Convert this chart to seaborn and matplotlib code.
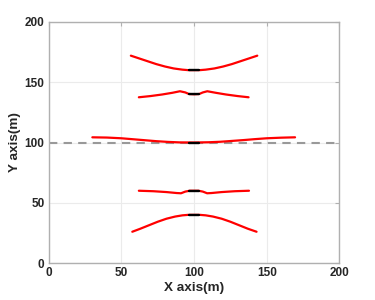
import numpy as np
import pandas as pd
import seaborn as sns
import matplotlib
matplotlib.use("Agg")
import matplotlib.pyplot as plt

# curves (x in m, y in m)
x_top = [56.5, 62, 68, 74, 80, 86, 92, 96, 100, 104, 108, 114, 120, 126, 132, 138, 143.5]
y_top = [172, 169.8, 167.4, 165, 163, 161.4, 160.4, 160, 160, 160, 160.4, 161.4, 163, 165, 167.4, 169.8, 172]

x_upper = [62, 70, 78, 85, 90.3, 94, 96.5, 100, 103.5, 106, 109.1, 115, 122, 130, 137.5]
y_upper = [137.5, 138.5, 139.8, 141.2, 142.5, 141.5, 140.2, 140, 140.2, 141.5, 142.5, 141.2, 139.8, 138.5, 137.5]

x_mid = [30, 40, 50, 58, 66, 74, 82, 90, 100, 110, 118, 126, 134, 142, 150, 160, 169.5]
y_mid = [104.3, 104.1, 103.5, 102.7, 101.9, 101.1, 100.5, 100.1, 100, 100.2, 100.6, 101.3, 102, 102.8, 103.5, 104, 104.3]

x_lower = [62, 72, 81, 88, 91, 94, 97, 100, 103, 106, 109, 112, 119, 128, 137.8]
y_lower = [60, 59.6, 58.9, 58.1, 57.9, 59.3, 60, 60, 60, 59.3, 57.9, 58.1, 58.9, 59.6, 60]

x_bottom = [57.5, 63, 69, 75, 81, 87, 92, 96, 100, 104, 108, 113, 119, 125, 131, 137, 143]
y_bottom = [26, 28.5, 31.4, 34.3, 36.8, 38.6, 39.6, 40, 40, 40, 39.6, 38.6, 36.8, 34.3, 31.4, 28.5, 26]

centers = [160, 140, 100, 60, 40]
center_x = [96.5, 103.5]
ref_y = 100

sns.set_style("white")
plt.rcParams['font.family'] = ['Liberation Sans', 'DejaVu Sans']
plt.rcParams['font.weight'] = 'bold'

fig = plt.figure(figsize=(3.75, 3.0), dpi=100)
ax = fig.add_axes([0.13, 0.123, 0.775, 0.804])

ax.axhline(ref_y, color='#999999', lw=1.5, ls=(0, (4, 3)), zorder=1)

for xs, ys in [(x_top, y_top), (x_upper, y_upper), (x_mid, y_mid),
               (x_lower, y_lower), (x_bottom, y_bottom)]:
    sns.lineplot(x=xs, y=ys, ax=ax, color='red', lw=1.6, sort=False,
                 estimator=None, zorder=3)

for c in centers:
    sns.lineplot(x=center_x, y=[c, c], ax=ax, color='black', lw=1.7,
                 sort=False, estimator=None, zorder=4)

ax.set_xlim(0, 200)
ax.set_ylim(0, 200)
ax.set_xticks([0, 50, 100, 150, 200])
ax.set_yticks([0, 50, 100, 150, 200])
ax.grid(True, color='#ebebeb', lw=0.8)
ax.set_axisbelow(True)
for s in ax.spines.values():
    s.set_visible(True)
    s.set_color('#b0b0b0')
    s.set_linewidth(1.0)
ax.tick_params(direction='in', length=3, color='#b0b0b0', labelsize=8.5,
               labelcolor='#262626', right=True, top=True, pad=3)
for lab in ax.get_xticklabels() + ax.get_yticklabels():
    lab.set_fontweight('bold')
ax.set_xlabel('X axis(m)', fontsize=9.7, fontweight='bold', color='#262626', labelpad=2)
ax.set_ylabel('Y axis(m)', fontsize=9.7, fontweight='bold', color='#262626', labelpad=3)

fig.savefig('out.png', dpi=100)
